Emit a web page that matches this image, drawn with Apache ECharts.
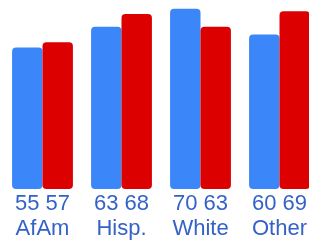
<!DOCTYPE html>
<html>
<head>
<meta charset="utf-8">
<script src="https://cdn.jsdelivr.net/npm/echarts@6/dist/echarts.min.js"></script>
<style>
  html, body { margin: 0; padding: 0; background: #fff; }
  #main { width: 309px; height: 243px; }
</style>
</head>
<body>
<div id="main"></div>
<script>
// 数据
const categories = ["AfAm", "Hisp.", "White", "Other"];
const blueValues = [55, 63, 70, 60];
const redValues = [57, 68, 63, 69];

const myChart = echarts.init(document.getElementById("main"));

const labelStyle = {
  show: true,
  position: "bottom",
  distance: 4,
  color: "#3562c6",
  fontSize: 22,
  fontFamily: "Liberation Sans, Arial, sans-serif",
};

const option = {
  animation: false,
  grid: {
    left: 3,
    top: 1,
    width: 316,
    height: 190.7,
    outerBoundsMode: "none",
  },
  xAxis: {
    type: "category",
    data: categories,
    axisLine: { show: false },
    axisTick: { show: false },
    axisLabel: {
      margin: 26,
      color: "#3562c6",
      fontSize: 22,
      fontFamily: "Liberation Sans, Arial, sans-serif",
      interval: 0,
    },
  },
  yAxis: {
    type: "value",
    min: -1,
    max: 73,
    show: false,
    splitLine: { show: false },
  },
  series: [
    {
      type: "bar",
      data: blueValues,
      barGap: "0%",
      barCategoryGap: "23%",
      itemStyle: { color: "#3b86f8", borderRadius: 4 },
      label: labelStyle,
    },
    {
      type: "bar",
      data: redValues,
      itemStyle: { color: "#dd0000", borderRadius: 4 },
      label: labelStyle,
    },
  ],
};

myChart.setOption(option);
</script>
</body>
</html>
